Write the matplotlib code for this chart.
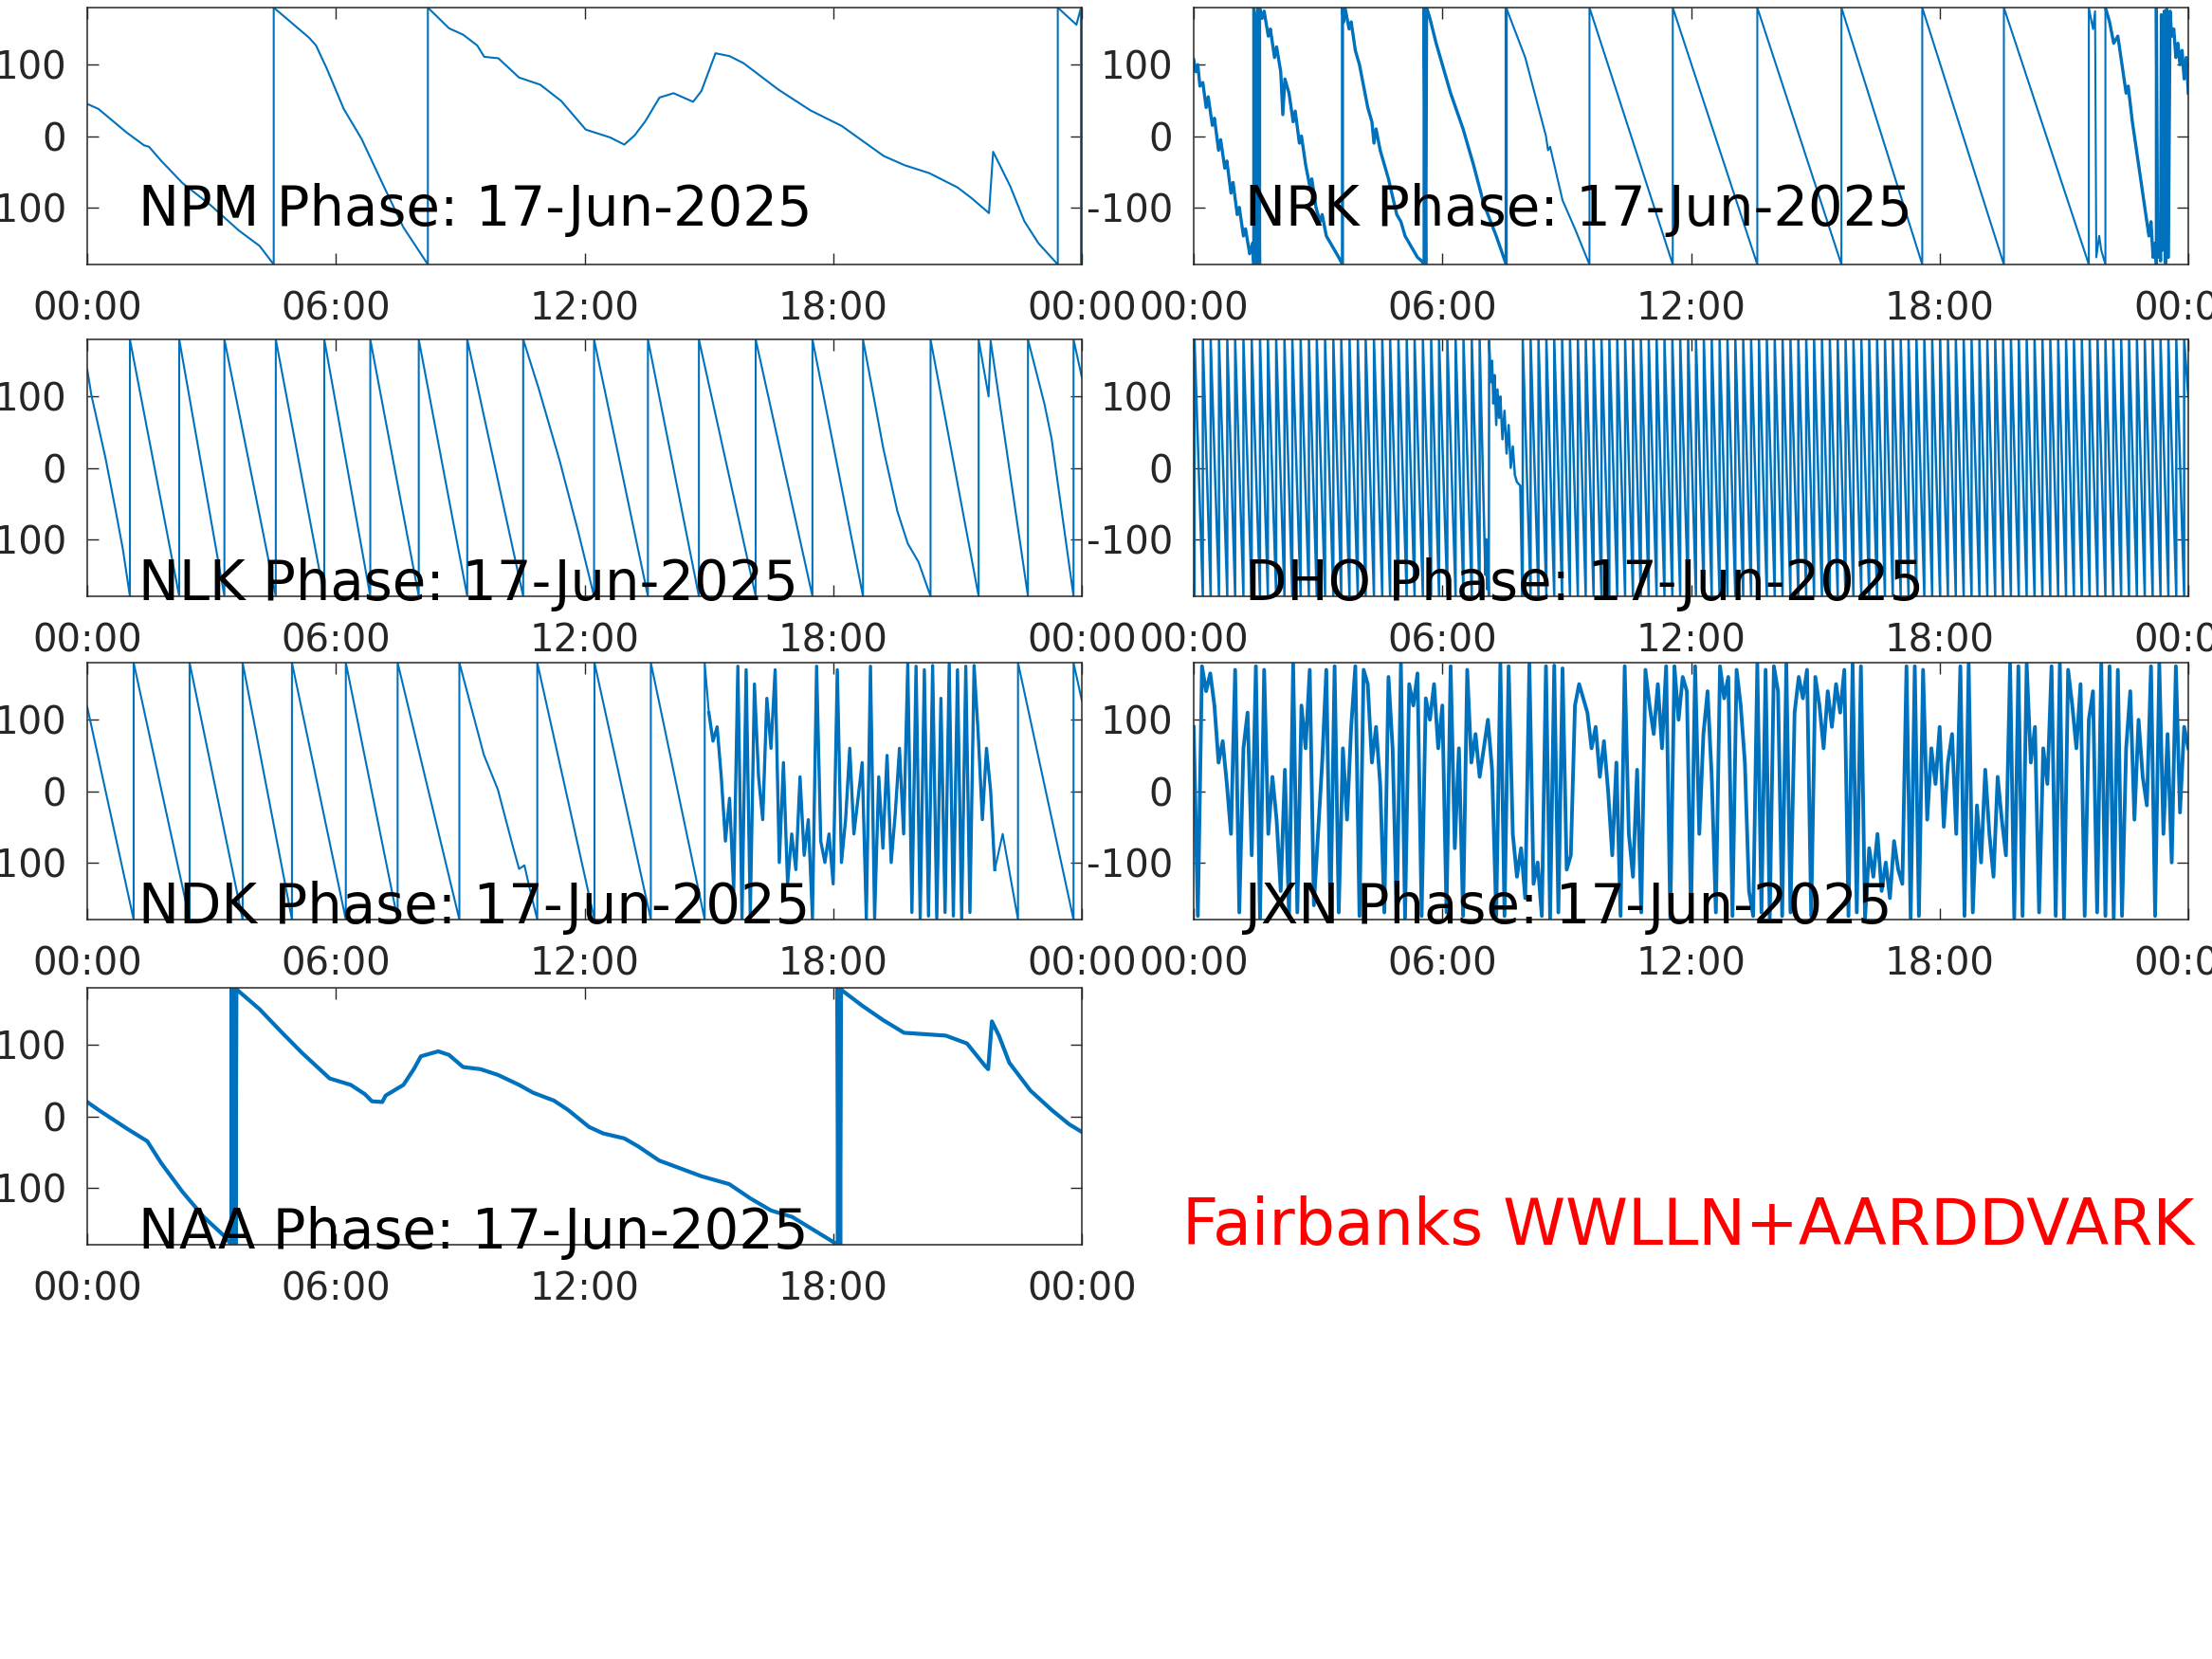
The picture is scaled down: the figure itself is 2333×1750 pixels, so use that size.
import numpy as np
import matplotlib
matplotlib.use("Agg")
import matplotlib.pyplot as plt

plt.rcParams['axes.unicode_minus'] = False

# ---- data (hours after 00:00 UT, phase in degrees) ----
npm_hours = [0, 0.27, 0.95, 1.37, 1.49, 1.79, 2.30, 2.98, 3.65, 4.16, 4.50, 4.50,
             5.35, 5.52, 5.77, 6.19, 6.62, 7.12, 7.63, 8.22, 8.22, 8.73, 9.07, 9.41,
             9.58, 9.92, 10.42, 10.93, 11.44, 11.69, 12.03, 12.62, 12.96, 13.21, 13.47,
             13.81, 14.15, 14.62, 14.82, 15.16, 15.50, 15.84, 16.68, 17.45, 18.21, 19.22,
             19.73, 20.32, 21.00, 21.34, 21.76, 21.86, 22.27, 22.61, 22.95, 23.42, 23.42,
             23.87, 23.98, 23.98]
npm_phase = [45, 38, 5, -13, -15, -35, -66, -97, -132, -154, -180, 180,
             138, 127, 96, 38, -4, -66, -128, -180, 180, 151, 142, 127,
             111, 109, 82, 72, 49, 32, 9, -2, -12, 1, 21,
             54, 60, 48, 63, 116, 112, 102, 65, 36, 14, -28,
             -41, -52, -72, -87, -108, -22, -70, -119, -150, -180, 180,
             156, 180, -180]

nrk_hours = [0.00, 0.05, 0.10, 0.15, 0.22, 0.30, 0.35, 0.45, 0.50, 0.60, 0.65, 0.75,
             0.80, 0.90, 0.95, 1.05, 1.10, 1.20, 1.25, 1.35, 1.42, 1.45, 1.45, 1.50,
             1.52, 1.55, 1.59, 1.59, 1.65, 1.70, 1.80, 1.85, 1.95, 2.00, 2.10, 2.15,
             2.20, 2.30, 2.40, 2.45, 2.55, 2.60, 2.70, 2.80, 2.85, 2.95, 3.05, 3.10,
             3.20, 3.30, 3.40, 3.50, 3.59, 3.59, 3.62, 3.65, 3.75, 3.80, 3.90, 4.00,
             4.10, 4.20, 4.30, 4.35, 4.40, 4.50, 4.60, 4.70, 4.80, 4.90, 5.00, 5.10,
             5.20, 5.30, 5.40, 5.50, 5.56, 5.56, 5.60, 5.62, 5.70, 5.85, 6.00, 6.20,
             6.50, 6.75, 7.00, 7.30, 7.54, 7.54, 8.00, 8.50, 8.55, 8.60, 8.90, 9.20,
             9.55, 9.55, 11.56, 11.56, 13.60, 13.60, 15.63, 15.63, 17.58, 17.58,
             19.55, 19.55, 21.60, 21.60, 21.70, 21.75, 21.78, 21.85, 21.90, 22.00,
             22.00, 22.10, 22.20, 22.30, 22.40, 22.50, 22.55, 22.65, 22.75, 22.85,
             22.95, 23.05, 23.10, 23.15, 23.20, 23.23, 23.23, 23.26, 23.30, 23.33,
             23.35, 23.38, 23.42, 23.45, 23.48, 23.52, 23.56, 23.60, 23.65, 23.70,
             23.75, 23.80, 23.85, 23.90, 23.95, 24.00]
nrk_phase = [107, 90, 100, 70, 75, 40, 55, 15, 25, -20, -5, -45,
             -35, -80, -65, -110, -100, -140, -130, -165, -150, -180, 180, 160,
             -180, 180, -180, 180, 165, 175, 140, 150, 110, 125, 90, 30,
             80, 60, 20, 35, -10, 0, -40, -70, -60, -100, -120, -110,
             -140, -150, -160, -170, -180, 180, 160, 180, 150, 160, 120, 100,
             70, 40, 20, -10, 10, -20, -40, -60, -85, -110, -120, -140,
             -150, -160, -170, -175, -180, 180, -180, 180, 165, 130, 100, 60,
             10, -40, -95, -140, -180, 180, 110, 0, -20, -15, -90, -130,
             -180, 180, -180, 180, -180, 180, -180, 180, -180, 180,
             -180, 180, -180, 180, 150, 175, -170, -140, -160, -180,
             180, 160, 130, 140, 100, 60, 70, 20, -20, -60,
             -100, -140, -120, -170, -150, -180, 180, -170, -120, -175,
             170, -160, 175, -178, 178, -170, 175, 140, 150, 110,
             130, 100, 120, 80, 110, 60]

nlk_hours = [0, 0.10, 0.27, 0.44, 0.69, 0.86, 1.03, 1.03, 2.22, 2.22, 3.31, 3.31,
             4.55, 4.55, 5.72, 5.72, 6.83, 6.83, 8.00, 8.00, 9.17, 9.17, 10.52, 10.52,
             10.90, 11.20, 11.40, 11.85, 12.23, 12.23, 13.53, 13.53, 14.76, 14.76,
             16.13, 16.13, 17.50, 17.50, 18.72, 18.72, 19.21, 19.55, 19.80, 20.06,
             20.35, 20.35, 21.51, 21.51, 21.75, 21.80, 22.70, 22.70, 23.10, 23.27,
             23.80, 23.80, 24.00]
nlk_phase = [138, 102, 58, 14, -61, -114, -180, 180, -180, 180, -180, 180,
             -180, 180, -180, 180, -180, 180, -180, 180, -180, 180, -180, 180,
             110, 50, 10, -90, -180, 180, -180, 180, -180, 180,
             -180, 180, -180, 180, -180, 180, 27, -61, -106, -132,
             -180, 180, -180, 180, 100, 178, -180, 180, 89, 41,
             -180, 180, 127]

# DHO: times where the phase wraps from -180 back to +180
dho_wraps_am = [0.02, 0.22, 0.41, 0.61, 0.81, 1.00, 1.20, 1.40, 1.60, 1.79, 1.99, 2.19,
                2.38, 2.58, 2.78, 2.97, 3.17, 3.37, 3.56, 3.76, 3.96, 4.15, 4.35, 4.55,
                4.74, 4.94, 5.14, 5.33, 5.53, 5.73, 5.92, 6.12, 6.32, 6.51, 6.71, 6.90]
dho_gap_hours = [7.02, 7.04, 7.06, 7.08, 7.10, 7.12, 7.13, 7.17, 7.20, 7.23, 7.26, 7.30,
                 7.33, 7.37, 7.40, 7.45, 7.50, 7.55, 7.60, 7.65, 7.70, 7.75, 7.80, 7.88,
                 7.93]
dho_gap_phase = [-110, -150, -100, -170, -120, -180, 178, 120, 150, 90, 130, 60,
                 110, 70, 100, 40, 80, 20, 60, 0, 30, -10, -20, -25,
                 -180]
dho_wraps_pm = [7.94, 8.13, 8.32, 8.51, 8.70, 8.89, 9.08, 9.27, 9.46, 9.65, 9.84, 10.03,
                10.22, 10.41, 10.60, 10.79, 10.98, 11.17, 11.36, 11.55, 11.74, 11.93,
                12.12, 12.31, 12.50, 12.69, 12.88, 13.07, 13.26, 13.45, 13.64, 13.83,
                14.02, 14.21, 14.40, 14.59, 14.78, 14.97, 15.16, 15.35, 15.54, 15.73,
                15.92, 16.11, 16.30, 16.49, 16.68, 16.87, 17.06, 17.25, 17.44, 17.63,
                17.82, 18.01, 18.20, 18.39, 18.58, 18.77, 18.96, 19.15, 19.34, 19.53,
                19.72, 19.91, 20.10, 20.29, 20.48, 20.67, 20.86, 21.05, 21.24, 21.43,
                21.62, 21.81, 22.00, 22.19, 22.38, 22.57, 22.76, 22.95, 23.14, 23.33,
                23.52, 23.71, 23.90]

ndk_hours = [0, 1.12, 1.12, 2.47, 2.47, 3.75, 3.75, 4.94, 4.94, 6.24, 6.24, 7.49, 7.49,
             8.98, 8.98, 9.30, 9.57, 9.91, 10.25, 10.42, 10.55, 10.67, 10.86, 10.86,
             12.24, 12.24, 13.60, 13.60, 14.90, 14.90]
ndk_phase = [118, -180, 180, -180, 180, -180, 180, -180, 180, -180, 180, -180, 180,
             -180, 180, 110, 51, 2, -73, -109, -104, -135, -180, 180,
             -180, 180, -180, 180, -180, 180]
# NDK noisy stretch, one value every 0.1 h from 15:00 to 21:54
ndk_noise = [110, 70, 90, 20, -70, -10, -140, 175, -178, 170,
             -175, 150, 20, -40, 130, 60, 170, -100, 40, -130,
             -60, -110, 20, -90, -40, -178, 175, -70, -100, -60,
             -130, 170, -100, -40, 60, -60, -10, 40, -178, 175,
             -178, 20, -80, 50, -100, -30, 60, -60, 178, -170,
             175, -178, 170, -175, 176, -178, 130, -170, 178, -175,
             170, -178, 175, -170, 176, 80, -40, 60, 0, -110]
ndk_tail_hours = [22.09, 22.46, 22.46, 23.80, 23.80, 24.00]
ndk_tail_phase = [-60, -180, 180, -180, 180, 127]

# JXN, one value every 0.1 h
jxn_phase = [90, -175, 175, 140, 165, 120, 40, 70, 10, -60,
             170, -170, 60, 110, -90, 175, -178, 170, -60, 20,
             -40, -140, 30, -175, 178, -170, 120, 60, 170, -160,
             -60, 40, 170, -175, 175, -170, 60, -40, 90, 175,
             -175, 170, 150, 40, 90, 10, -170, 160, 60, -175,
             178, -178, 150, 120, 165, -175, 130, 100, 150, 60,
             120, -170, 175, -80, 60, -175, 170, 40, 80, 20,
             60, 100, 30, -175, 178, -175, 175, -60, -120, -80,
             -150, 178, -130, -100, -175, 175, -178, 176, -170, 172,
             -110, -90, 120, 150, 130, 110, 60, 90, 20, 70,
             0, -90, 40, -175, 175, -60, -120, 30, -170, 170,
             120, 80, 150, 60, 175, -178, 175, 100, 160, 140,
             -175, 175, -60, 80, 140, 20, -170, 175, 130, 160,
             -175, 170, 120, 40, -140, -175, 178, -170, 170, -178,
             175, 140, -175, 178, -170, 110, 160, 130, 170, -175,
             160, 120, 60, 140, 90, 150, 110, 170, -175, 178,
             -170, 175, -178, -80, -120, -60, -140, -100, -150, -70,
             -110, -130, 175, -178, 175, -175, 170, -40, 60, 10,
             90, -50, 40, 80, -60, 175, -175, 178, -170, -20,
             -100, 30, -60, -120, 20, -40, -90, 178, -178, 175,
             -175, 178, 40, 90, -170, 60, 10, 175, -175, 178,
             -178, 170, 120, 60, 150, -175, 100, 140, -170, 178,
             -175, 175, -178, 170, -175, 60, 140, -40, 100, 20,
             -20, 175, -175, 178, -60, 80, -100, 175, -30, 90,
             60]

naa_hours = [0, 0.27, 0.95, 1.45, 1.79, 2.30, 2.81, 3.31, 3.48, 3.48, 3.50, 3.52, 3.54,
             3.56, 3.58, 3.60, 3.62, 4.16, 4.67, 5.18, 5.85, 6.36, 6.70, 6.87, 7.12,
             7.20, 7.63, 7.88, 8.05, 8.47, 8.73, 9.07, 9.49, 9.91, 10.42, 10.76, 11.26,
             11.60, 12.11, 12.45, 12.96, 13.29, 13.80, 14.31, 14.82, 15.49, 16.00,
             16.50, 17.01, 17.52, 18.11, 18.11, 18.13, 18.15, 18.17, 18.19, 18.20,
             18.70, 19.20, 19.71, 20.22, 20.72, 21.23, 21.66, 21.74, 21.83, 22.00,
             22.25, 22.76, 23.27, 23.69, 24.00]
naa_phase = [20, 9, -17, -35, -66, -106, -141, -168, -180, 180, -180, 180, -180,
             180, -180, 180, 177, 150, 119, 89, 53, 44, 31, 21, 20,
             29, 44, 66, 84, 91, 86, 69, 66, 58, 44, 33, 22,
             9, -15, -24, -31, -42, -62, -73, -84, -95, -115,
             -132, -141, -159, -180, 180, -180, 180, -180, 180, 177,
             155, 135, 117, 115, 113, 102, 71, 66, 133, 113,
             75, 36, 9, -11, -22]

tick_hours = [0, 6, 12, 18, 24]
tick_labels = ['00:00', '06:00', '12:00', '18:00', '00:00']
date_str = '17-Jun-2025'

# ---- build the wrapped DHO trace from the wrap times ----
dho_hours, dho_phase = [0.0], [-175.0]
for w in dho_wraps_am:
    dho_hours += [w, w]
    dho_phase += [-180, 180]
dho_hours += dho_gap_hours
dho_phase += dho_gap_phase
for w in dho_wraps_pm:
    dho_hours += [w, w]
    dho_phase += [-180, 180]
dho_hours.append(24.0)
dho_phase.append(100)

ndk_noise_hours = list(15.0 + 0.1 * np.arange(len(ndk_noise)))
ndk_all_hours = ndk_hours + ndk_noise_hours + ndk_tail_hours
ndk_all_phase = ndk_phase + ndk_noise + ndk_tail_phase

jxn_hours = 0.1 * np.arange(len(jxn_phase))

line_col = '#0072BD'
ax_col = '#262626'

fig = plt.figure(figsize=(23.33, 17.5), dpi=100)

W = 1049 / 2333
H = 271 / 1750
xl = 92 / 2333
xr = 1259 / 2333
rows = [0.84057, 0.64057, 0.44571, 0.24971]

panels = [
    ('NPM', npm_hours, npm_phase, xl, rows[0], 0.151, 1.5),
    ('NRK', nrk_hours, nrk_phase, xr, rows[0], 0.151, 1.5),
    ('NLK', nlk_hours, nlk_phase, xl, rows[1], -0.015, 1.5),
    ('DHO', dho_hours, dho_phase, xr, rows[1], -0.015, 1.8),
    ('NDK', ndk_all_hours, ndk_all_phase, xl, rows[2], -0.015, 1.5),
    ('JXN', jxn_hours, jxn_phase, xr, rows[2], -0.015, 2.8),
    ('NAA', naa_hours, naa_phase, xl, rows[3], -0.015, 3.0),
]

axes = {}
for name, hrs, ph, x0, y0, ty, lw in panels:
    ax = fig.add_axes([x0, y0, W, H])
    axes[name] = ax
    ax.plot(hrs, ph, color=line_col, lw=lw)
    ax.set_xlim(0, 24)
    ax.set_ylim(-180, 180)
    ax.set_xticks(tick_hours)
    ax.set_xticklabels(tick_labels)
    ax.set_yticks([-100, 0, 100])
    ax.tick_params(direction='in', length=8.6, width=1.0, top=True, right=True,
                   labelsize=29, colors=ax_col, labelcolor=ax_col)
    ax.tick_params(axis='x', pad=20)
    ax.tick_params(axis='y', pad=16)
    for sp in ax.spines.values():
        sp.set_color(ax_col)
        sp.set_linewidth(1.1)
    ax.text(0.0515, ty, f'{name} Phase: {date_str}', transform=ax.transAxes,
            fontsize=41.5, color='black', va='baseline', ha='left')

# the noisy stretches look heavier in the original
axes['NRK'].plot(nrk_hours[:90], nrk_phase[:90], color=line_col, lw=2.4)
axes['NRK'].plot(nrk_hours[116:], nrk_phase[116:], color=line_col, lw=2.4)
axes['NDK'].plot(ndk_noise_hours, ndk_noise, color=line_col, lw=2.4)

fig.text(1247 / 2333, 1 - 1313 / 1750, 'Fairbanks WWLLN+AARDDVARK', color='red',
         fontsize=48, va='baseline', ha='left')

fig.savefig('out.png', dpi=100)
